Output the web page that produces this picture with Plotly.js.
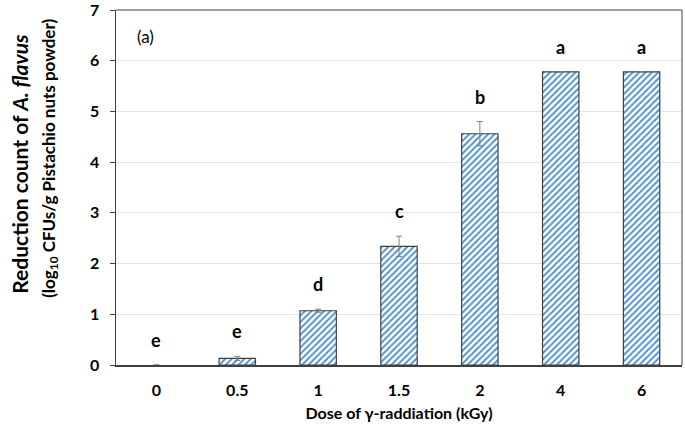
<!DOCTYPE html>
<html><head><meta charset="utf-8">
<script src="https://cdn.plot.ly/plotly-3.0.1.min.js"></script>
<style>html,body{margin:0;padding:0;background:#fff}#chart{width:685px;height:442px}</style>
</head><body><div id="chart"></div>
<script>
const doses = ["0", "0.5", "1", "1.5", "2", "4", "6"];
const reduction = [0, 0.13, 1.07, 2.34, 4.56, 5.78, 5.78];
const errors = [0, 0.04, 0.03, 0.2, 0.24, 0, 0];
const letters = ["e", "e", "d", "c", "b", "a", "a"];
const yTicks = [0, 1, 2, 3, 4, 5, 6, 7];

const FONT = "Lato, 'Open Sans', sans-serif";

const trace = {
  type: "bar",
  x: doses,
  y: reduction,
  width: 0.45,
  marker: {
    color: "#ffffff",
    line: {color: "#404040", width: reduction.map(v => v > 0 ? 1.2 : 0)},
    pattern: {shape: "/", fgcolor: "#4a90d0", bgcolor: "#ffffff", size: 4.5, solidity: 0.4}
  },
  error_y: {type: "data", array: errors, visible: true, color: "#7f7f7f", thickness: 1, width: 3},
  hoverinfo: "skip"
};

const annotations = letters.map((t, i) => ({
  x: i, y: reduction[i] + errors[i], xref: "x", yref: "y",
  text: "<b>" + t + "</b>", showarrow: false, yanchor: "bottom", yshift: 12,
  font: {family: FONT, size: 18, color: "#000"}
}));
annotations.push({
  xref: "paper", yref: "paper", x: 0.033, y: 0.925, xanchor: "left", yanchor: "middle",
  text: "(a)", showarrow: false, font: {family: FONT, size: 17, color: "#000"}
});
annotations.push({
  xref: "paper", yref: "paper", x: -0.172, y: 0.566, xanchor: "center", yanchor: "middle",
  textangle: -90, showarrow: false,
  text: "<b>Reduction count of <i>A. flavus</i></b>",
  font: {family: FONT, size: 21, color: "#000"}
});
annotations.push({
  xref: "paper", yref: "paper", x: -0.117, y: 0.583, xanchor: "center", yanchor: "middle",
  textangle: -90, showarrow: false,
  text: "<b>(log<sub>10</sub> CFUs/g Pistachio nuts powder)</b>",
  font: {family: FONT, size: 17, color: "#000"}
});

const layout = {
  width: 685, height: 442,
  margin: {l: 116, r: 3, t: 10, b: 77},
  paper_bgcolor: "#fff", plot_bgcolor: "#fff",
  showlegend: false,
  xaxis: {
    type: "category",
    showline: true, linecolor: "#404040", linewidth: 1.5, mirror: false,
    ticks: "", tickfont: {family: FONT, size: 16, color: "#000", weight: "bold"},
    ticklabelstandoff: 10,
    title: {text: "<b>Dose of γ-raddiation (kGy)</b>", font: {family: FONT, size: 16, color: "#000"}, standoff: 10},
    showgrid: false, zeroline: false
  },
  yaxis: {
    range: [0, 7.000001], tickvals: yTicks, ticktext: yTicks.map(String),
    showline: true, linecolor: "#404040", linewidth: 1.5,
    ticks: "outside", ticklen: 5, tickcolor: "#404040",
    ticklabelstandoff: 7, ticklabeloverflow: "allow",
    tickfont: {family: FONT, size: 16, color: "#000", weight: "bold"},
    showgrid: true, gridcolor: "#e3e3e3", gridwidth: 1, zeroline: false
  },
  shapes: [
    {type: "line", xref: "paper", yref: "paper", x0: 0, x1: 1, y0: 1, y1: 1, line: {color: "#7f7f7f", width: 1.5}},
    {type: "line", xref: "paper", yref: "paper", x0: 1, x1: 1, y0: 0, y1: 1, line: {color: "#7f7f7f", width: 1.5}}
  ],
  annotations: annotations,
  bargap: 0.55
};

Plotly.newPlot("chart", [trace], layout, {staticPlot: true, displayModeBar: false});
</script>
</body></html>
